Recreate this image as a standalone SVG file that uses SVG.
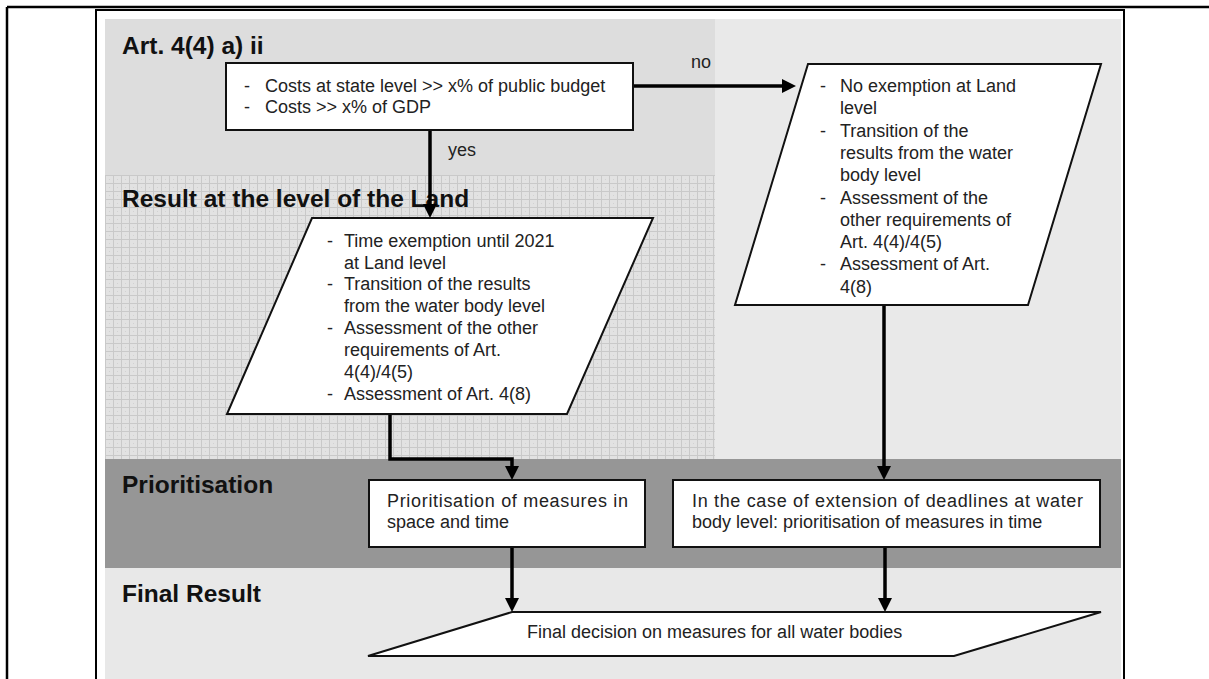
<svg xmlns="http://www.w3.org/2000/svg" width="1209" height="679" viewBox="0 0 1209 679">
  <style>
    .title { font-family: "Liberation Sans", Arial, sans-serif; font-size: 24.5px; font-weight: bold; fill: #111; }
    .txt { font-family: "Liberation Sans", Arial, sans-serif; font-size: 18px; fill: #222; }
    .shape { fill: #fff; stroke: #111; stroke-width: 2; }
    .conn { fill: none; stroke: #000; stroke-width: 3.5; }
  </style>
  <defs>
    <pattern id="grid" width="8" height="8" patternUnits="userSpaceOnUse" x="105" y="175">
      <rect width="8" height="8" fill="#e2e2e2"/>
      <path d="M0,0.5 H8 M0.5,0 V8" stroke="#c9c9c9" stroke-width="1"/>
      <rect x="4" y="4" width="1" height="1" fill="#d2d2d2"/>
    </pattern>
    <marker id="arrow" markerUnits="userSpaceOnUse" markerWidth="16" markerHeight="16" refX="2" refY="7" orient="auto">
      <path d="M0,0 L14,7 L0,14 z" fill="#000"/>
    </marker>
  </defs>

  <!-- page rules -->
  <path d="M7,7 H1209 M7,7 V679" stroke="#000" stroke-width="2.5" fill="none"/>
  <!-- figure frame -->
  <rect x="96" y="10" width="1028" height="680" fill="#fff" stroke="#000" stroke-width="2"/>

  <!-- background bands -->
  <g id="bands">
    <rect x="105" y="19" width="610" height="156" fill="#dddddd"/>
    <rect x="715" y="19" width="406" height="440" fill="#e9e9e9"/>
    <rect x="105" y="175" width="610" height="284" fill="url(#grid)"/>
    <rect x="105" y="459" width="1016" height="109" fill="#969696"/>
    <rect x="105" y="568" width="1016" height="111" fill="#e8e8e8"/>
  </g>

  <!-- section titles -->
  <g id="titles">
    <text class="title" x="122" y="54">Art. 4(4) a) ii</text>
    <text class="title" x="122" y="207">Result at the level of the Land</text>
    <text class="title" x="122" y="493">Prioritisation</text>
    <text class="title" x="122" y="602">Final Result</text>
  </g>

  <!-- connectors -->
  <g id="connectors">
    <path class="conn" d="M633,86 H784" marker-end="url(#arrow)"/>
    <path class="conn" d="M430,130 V206" marker-end="url(#arrow)"/>
    <path class="conn" d="M390,414 V459 H512 V468" marker-end="url(#arrow)"/>
    <path class="conn" d="M884,305 V468" marker-end="url(#arrow)"/>
    <path class="conn" d="M512,547 V600" marker-end="url(#arrow)"/>
    <path class="conn" d="M885,547 V600" marker-end="url(#arrow)"/>
    <text class="txt" x="691" y="68">no</text>
    <text class="txt" x="448" y="156">yes</text>
  </g>

  <!-- cost criteria -->
  <g id="node-costs">
    <rect class="shape" x="226" y="63" width="407" height="67"/>
    <text class="txt" x="244" y="92">-</text>
    <text class="txt" x="265" y="92">Costs at state level &gt;&gt; x% of public budget</text>
    <text class="txt" x="244" y="113">-</text>
    <text class="txt" x="265" y="113">Costs &gt;&gt; x% of GDP</text>
  </g>

  <!-- no exemption at Land level -->
  <g id="node-no-exemption">
    <polygon class="shape" points="808,64 1101,64 1028,305 735,305"/>
    <text class="txt" x="820" y="92">-</text>
    <text class="txt" x="840" y="92">No exemption at Land</text>
    <text class="txt" x="840" y="114.3">level</text>
    <text class="txt" x="820" y="136.6">-</text>
    <text class="txt" x="840" y="136.6">Transition of the</text>
    <text class="txt" x="840" y="158.9">results from the water</text>
    <text class="txt" x="840" y="181.2">body level</text>
    <text class="txt" x="820" y="203.5">-</text>
    <text class="txt" x="840" y="203.5">Assessment of the</text>
    <text class="txt" x="840" y="225.8">other requirements of</text>
    <text class="txt" x="840" y="248.1">Art. 4(4)/4(5)</text>
    <text class="txt" x="820" y="270.4">-</text>
    <text class="txt" x="840" y="270.4">Assessment of Art.</text>
    <text class="txt" x="840" y="292.7">4(8)</text>
  </g>

  <!-- time exemption at Land level -->
  <g id="node-time-exemption">
    <polygon class="shape" points="312,218 653,218 567,414 227,414"/>
    <text class="txt" x="327" y="247">-</text>
    <text class="txt" x="344" y="247">Time exemption until 2021</text>
    <text class="txt" x="344" y="268.5">at Land level</text>
    <text class="txt" x="327" y="290">-</text>
    <text class="txt" x="344" y="290">Transition of the results</text>
    <text class="txt" x="344" y="311.5">from the water body level</text>
    <text class="txt" x="327" y="334">-</text>
    <text class="txt" x="344" y="334">Assessment of the other</text>
    <text class="txt" x="344" y="356">requirements of Art.</text>
    <text class="txt" x="344" y="378">4(4)/4(5)</text>
    <text class="txt" x="327" y="400">-</text>
    <text class="txt" x="344" y="400">Assessment of Art. 4(8)</text>
  </g>

  <!-- prioritisation in space and time -->
  <g id="node-prio-space">
    <rect class="shape" x="369" y="480" width="276" height="67"/>
    <text class="txt" x="387" y="507" textLength="241" lengthAdjust="spacing">Prioritisation of measures in</text>
    <text class="txt" x="387" y="528">space and time</text>
  </g>

  <!-- prioritisation in time -->
  <g id="node-prio-time">
    <rect class="shape" x="673" y="480" width="427" height="67"/>
    <text class="txt" x="692" y="507" textLength="391" lengthAdjust="spacing">In the case of extension of deadlines at water</text>
    <text class="txt" x="692" y="528">body level: prioritisation of measures in time</text>
  </g>

  <!-- final decision -->
  <g id="node-final">
    <polygon class="shape" points="512,612 1101,612 954,656 368,656"/>
    <text class="txt" x="527" y="638">Final decision on measures for all water bodies</text>
  </g>
</svg>
